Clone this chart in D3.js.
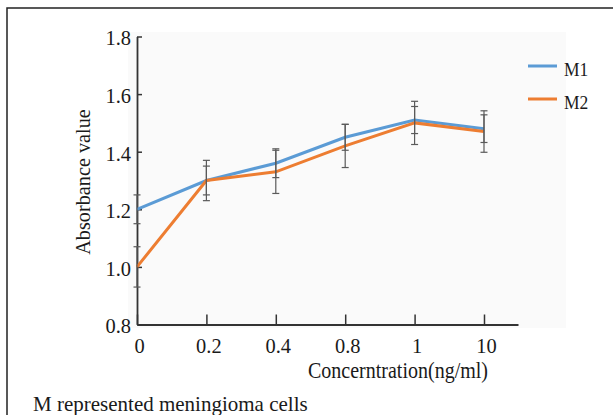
<!DOCTYPE html>
<html>
<head>
<meta charset="utf-8">
<script src="https://cdn.jsdelivr.net/npm/d3@7"></script>
<style>
  body { margin: 0; background: #fff; }
  svg { display: block; }
  text { font-family: "Liberation Serif", "Times New Roman", serif; fill: #1a1a1a; }
</style>
</head>
<body>
<div id="chart"></div>
<script>
// data
const concentrations = ["0", "0.2", "0.4", "0.8", "1", "10"];
const m1Values = [1.20, 1.30, 1.36, 1.45, 1.51, 1.48];
const m2Values = [1.00, 1.30, 1.33, 1.42, 1.50, 1.47];
const m1Errors = [0.05, 0.05, 0.05, 0.045, 0.047, 0.048];
const m2Errors = [0.07, 0.07, 0.075, 0.075, 0.075, 0.072];
const yTicks = [0.8, 1.0, 1.2, 1.4, 1.6, 1.8];
const seriesNames = ["M1", "M2"];

const width = 613, height = 415;
const colors = {M1: "#5b9bd5", M2: "#ed7d31"};

const series = [
  {name: seriesNames[0], values: m1Values, errors: m1Errors},
  {name: seriesNames[1], values: m2Values, errors: m2Errors}
];

// the original font is a narrow serif: draw bigger, squeeze to width
function condense(sel, ratio) {
  sel.each(function() {
    const w = this.getComputedTextLength();
    d3.select(this).attr("textLength", w * ratio).attr("lengthAdjust", "spacingAndGlyphs");
  });
}

const svg = d3.select("#chart").append("svg")
  .attr("width", width)
  .attr("height", height);

// outer frame (runs off the right and bottom edge)
svg.append("path")
  .attr("d", "M7,420 L7,8 L620,8")
  .attr("fill", "none")
  .attr("stroke", "#222")
  .attr("stroke-width", 1.5);

// light plot background
svg.append("rect")
  .attr("x", 128).attr("y", 32)
  .attr("width", 438).attr("height", 296)
  .attr("fill", "#fafafa");

const x = d3.scalePoint()
  .domain(concentrations)
  .range([137, 518])
  .padding(0.245)
  .align(0);

const y = d3.scaleLinear()
  .domain([0.8, 1.8])
  .range([324.5, 36.5]);

// x axis
const xAxis = svg.append("g")
  .attr("transform", `translate(0,${y(0.8)})`)
  .call(d3.axisBottom(x).tickSizeInner(-10).tickSizeOuter(0).tickPadding(13));
xAxis.select(".domain").attr("stroke", "#333").attr("stroke-width", 1.8);
xAxis.selectAll(".tick line").attr("stroke", "#333").attr("stroke-width", 1.5);
xAxis.selectAll(".tick text")
  .attr("font-size", 22)
  .attr("font-family", "Liberation Serif")
  .attr("fill", "#1a1a1a")
  .attr("dx", 2)
  .call(condense, 0.93);

// y axis
const yAxis = svg.append("g")
  .attr("transform", `translate(${x(concentrations[0])},0)`)
  .call(d3.axisLeft(y).tickValues(yTicks).tickFormat(d3.format(".1f"))
    .tickSizeInner(-5).tickSizeOuter(0).tickPadding(6));
yAxis.select(".domain").attr("stroke", "#333").attr("stroke-width", 1.8);
yAxis.selectAll(".tick line").attr("stroke", "#333").attr("stroke-width", 1.5);
yAxis.selectAll(".tick text")
  .attr("font-size", 22)
  .attr("font-family", "Liberation Serif")
  .attr("fill", "#1a1a1a")
  .attr("dy", "0.38em")
  .call(condense, 0.93);

// lines
const line = d3.line()
  .x((d, i) => x(concentrations[i]))
  .y(d => y(d));

series.forEach(s => {
  svg.append("path")
    .datum(s.values)
    .attr("d", line)
    .attr("fill", "none")
    .attr("stroke", colors[s.name])
    .attr("stroke-width", 3);
});

// error bars
const capW = 3.5;
series.forEach(s => {
  const g = svg.append("g").attr("stroke", "#5a5a5a").attr("stroke-width", 1.2);
  s.values.forEach((v, i) => {
    const cx = x(concentrations[i]);
    const top = y(v + s.errors[i]), bot = y(v - s.errors[i]);
    g.append("line").attr("x1", cx).attr("x2", cx).attr("y1", top).attr("y2", bot);
    g.append("line").attr("x1", cx - capW).attr("x2", cx + capW).attr("y1", top).attr("y2", top);
    g.append("line").attr("x1", cx - capW).attr("x2", cx + capW).attr("y1", bot).attr("y2", bot);
  });
});

// legend
const legend = svg.append("g").attr("transform", "translate(528,66)");
series.forEach((s, i) => {
  const row = legend.append("g").attr("transform", `translate(0,${i * 33})`);
  row.append("line")
    .attr("x1", 0).attr("x2", 29)
    .attr("stroke", colors[s.name])
    .attr("stroke-width", 3);
  row.append("text")
    .attr("x", 36).attr("y", 10)
    .attr("font-size", 19)
    .text(s.name)
    .call(condense, 0.92);
});

// axis titles
svg.append("text")
  .attr("transform", "translate(90,182) rotate(-90)")
  .attr("text-anchor", "middle")
  .attr("font-size", 22)
  .text("Absorbance value")
  .call(condense, 0.92);

svg.append("text")
  .attr("x", 398).attr("y", 378)
  .attr("text-anchor", "middle")
  .attr("font-size", 23)
  .text("Concerntration(ng/ml)")
  .call(condense, 0.87);

// note under the chart
svg.append("text")
  .attr("x", 33).attr("y", 411)
  .attr("font-size", 21)
  .text("M represented meningioma cells");
</script>
</body>
</html>
